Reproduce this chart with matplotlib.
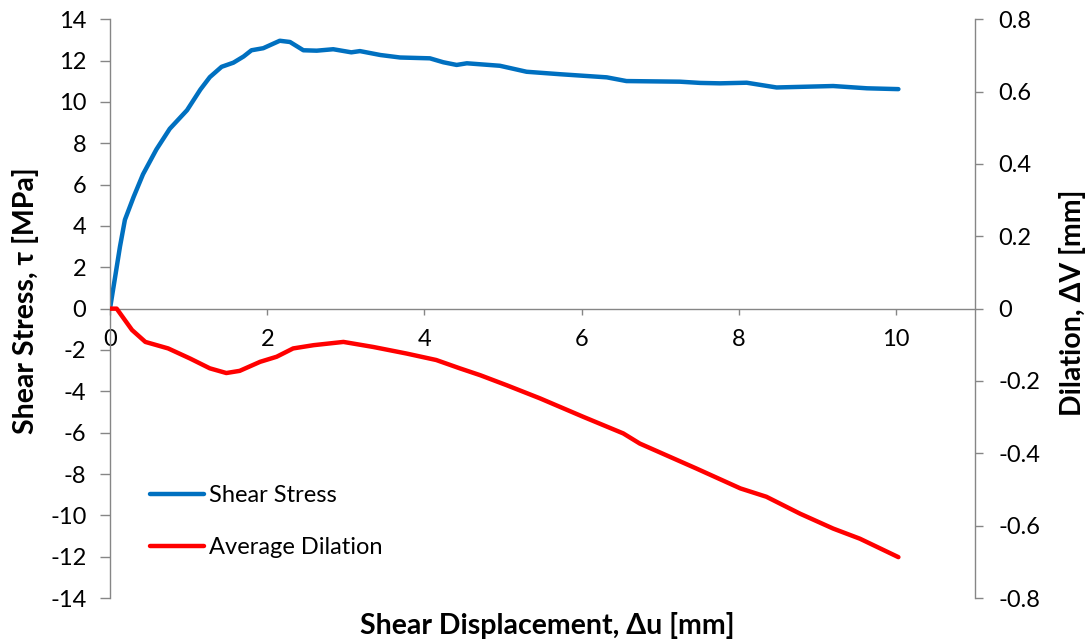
import matplotlib
matplotlib.use("Agg")
import matplotlib.pyplot as plt

# shear stress vs displacement
disp_stress = [0, 0.064, 0.127, 0.19, 0.30, 0.42, 0.59, 0.76, 0.98, 1.15, 1.27, 1.42,
               1.57, 1.70, 1.80, 1.95, 2.16, 2.29, 2.46, 2.63, 2.84, 3.07, 3.18, 3.44,
               3.69, 4.07, 4.24, 4.41, 4.54, 4.96, 5.3, 5.73, 6.32, 6.57, 7.25, 7.51,
               7.76, 8.1, 8.48, 9.2, 9.63, 10.03]
shear_stress = [0, 1.5, 3.0, 4.3, 5.4, 6.5, 7.7, 8.7, 9.6, 10.6, 11.2, 11.7,
                11.9, 12.2, 12.5, 12.6, 12.96, 12.9, 12.5, 12.48, 12.55, 12.4, 12.46, 12.27,
                12.15, 12.11, 11.92, 11.79, 11.87, 11.75, 11.46, 11.34, 11.19, 11.01, 10.98, 10.92,
                10.9, 10.93, 10.7, 10.77, 10.66, 10.62]

# average dilation vs displacement
disp_dil = [0, 0.085, 0.28, 0.45, 0.74, 1.02, 1.27, 1.48, 1.65, 1.91, 2.12, 2.33,
            2.59, 2.97, 3.35, 3.77, 4.15, 4.45, 4.71, 5.05, 5.47, 6.02, 6.53, 6.74,
            7.46, 8.02, 8.35, 8.78, 9.2, 9.54, 10.03]
dilation = [0, 0, -0.059, -0.092, -0.11, -0.138, -0.165, -0.178, -0.172, -0.147, -0.133, -0.11,
            -0.101, -0.092, -0.106, -0.124, -0.142, -0.165, -0.184, -0.212, -0.248, -0.299, -0.345, -0.373,
            -0.442, -0.497, -0.52, -0.567, -0.608, -0.636, -0.687]

x_ticks = [0, 2, 4, 6, 8, 10]
stress_ticks = list(range(-14, 15, 2))
dil_ticks = [-0.8, -0.6, -0.4, -0.2, 0, 0.2, 0.4, 0.6, 0.8]

plt.rcParams['font.family'] = ['Lato', 'DejaVu Sans']
plt.rcParams['axes.unicode_minus'] = False
grey = '#868686'

fig = plt.figure(figsize=(10.89, 6.42), dpi=100)
ax = fig.add_axes([0.101, 0.0685, 0.794, 0.9015])
ax2 = ax.twinx()

l1, = ax.plot(disp_stress, shear_stress, color='#0070C0', lw=3.2,
              solid_capstyle='round', solid_joinstyle='round', label='Shear Stress')
l2, = ax2.plot(disp_dil, dilation, color='#FF0000', lw=3.2,
               solid_capstyle='round', solid_joinstyle='round', label='Average Dilation')

ax.set_xlim(0, 11)
ax.set_ylim(-14, 14)
ax2.set_ylim(-0.8, 0.8)
ax.set_xticks(x_ticks)
ax.set_yticks(stress_ticks)
ax2.set_yticks(dil_ticks)
ax2.set_yticklabels([('%g' % v) for v in dil_ticks])

for s in ['top', 'right']:
    ax.spines[s].set_visible(False)
for s in ['top', 'bottom', 'left']:
    ax2.spines[s].set_visible(False)
ax.spines['bottom'].set_position(('data', 0))
for sp in [ax.spines['left'], ax.spines['bottom'], ax2.spines['right']]:
    sp.set_color(grey)
    sp.set_linewidth(1.0)

ax.tick_params(axis='x', direction='out', length=4, width=1, color=grey,
               labelsize=17, pad=11)
ax.tick_params(axis='y', direction='out', length=7, width=1, color=grey,
               labelsize=17, pad=10)
ax2.tick_params(axis='y', direction='out', length=6, width=1, color=grey,
                labelsize=17, pad=11)

ax.set_xlabel('Shear Displacement, Δu [mm]', fontsize=20.5, fontweight='bold')
ax.xaxis.set_label_coords(0.506, -0.047)
ax.xaxis.label.set_va('center')
ax.set_ylabel('Shear Stress, τ [MPa]', fontsize=20.5, fontweight='bold')
ax.yaxis.set_label_coords(-0.098, 0.513)
ax.yaxis.label.set_va('center')
ax2.set_ylabel('Dilation, ΔV [mm]', fontsize=20.5, fontweight='bold')
ax2.yaxis.set_label_coords(1.113, 0.51)
ax2.yaxis.label.set_va('center')

ax.legend(handles=[l1, l2], loc='upper left', bbox_to_anchor=(0.1377, 0.244),
          bbox_transform=fig.transFigure, frameon=False, fontsize=17,
          handlelength=2.3, handletextpad=0.2, labelspacing=1.3,
          borderpad=0, borderaxespad=0)

fig.savefig('out.png', dpi=100)
